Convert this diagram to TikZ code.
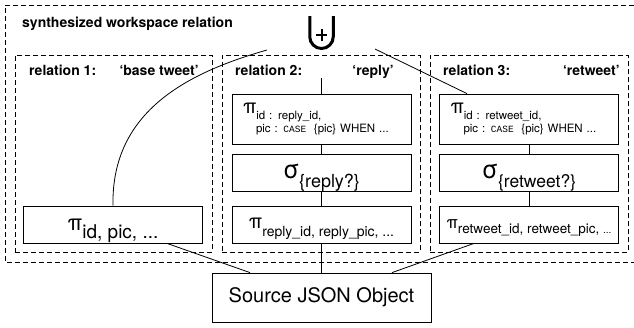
\documentclass[tikz,border=0pt]{standalone}
\usepackage{fontspec}
\setmainfont{TeX Gyre Heros}
\setmonofont{Liberation Mono}
\usetikzlibrary{positioning}
\newcommand{\fsz}[1]{\fontsize{#1}{#1}\selectfont}
\tikzstyle{relFrame}=[draw, dash pattern=on 5pt off 3pt, line width=0.9pt]
\tikzstyle{relLabel}=[anchor=base west, inner sep=0pt, font=\fsz{14}\bfseries]
\tikzstyle{relTag}=[anchor=base east, inner sep=0pt, font=\fsz{14}\bfseries]
\tikzstyle{opBox}=[draw, line width=0.8pt, minimum width=179pt, minimum height=37pt, inner sep=0pt]
\tikzstyle{mapBox}=[opBox, minimum height=50pt, text width=157pt, align=left, font=\fontsize{11.5}{18.5}\selectfont]
\tikzstyle{srcBox}=[draw, line width=0.8pt, minimum width=219pt, minimum height=49pt, font=\fsz{20}]
\tikzstyle{unionSign}=[line width=3pt]
\tikzstyle{unionPlus}=[line width=2pt]
\tikzstyle{dataFlow}=[line width=0.8pt]

\begin{document}
\begin{tikzpicture}[x=1pt, y=-1pt]
    \useasboundingbox (0,0) rectangle (634,327);

    % Workspace Frames
    \draw[relFrame] (634,5) -| (5,262) -- (634,262);
    \node[relFrame, minimum width=197pt, minimum height=197pt, inner sep=0pt] (rel1) at (113.5,153.5) {};
    \node[relFrame, minimum width=198pt, minimum height=197pt, inner sep=0pt] (rel2) at (321,153.5) {};
    \node[relFrame, minimum width=198pt, minimum height=197pt, inner sep=0pt] (rel3) at (529,153.5) {};

    % Frame Labels
    \node[relLabel] (title) at (22,27) {synthesized workspace relation};
    \node[relLabel] (rel1Name) at (29,75.5) {relation 1:};
    \node[relTag] (rel1Tag) at (199,75.5) {‘base tweet’};
    \node[relLabel] (rel2Name) at (235,75.5) {relation 2:};
    \node[relTag] (rel2Tag) at (394,75.5) {‘reply’};
    \node[relLabel] (rel3Name) at (443,75.5) {relation 3:};
    \node[relTag] (rel3Tag) at (620,75.5) {‘retweet’};

    % Union Sign
    \coordinate (union) at (321.5,36.75);
    \draw[unionSign] (309.75,16) -- (309.75,36.75) arc[start angle=180, end angle=360, radius=11.75pt] -- (333.25,16);
    \draw[unionPlus] (316,34.5) -- (327,34.5);
    \draw[unionPlus] (321.5,28.5) -- (321.5,41);
    \coordinate (unionL) at (267,50);
    \coordinate (unionR) at (375,49);

    % Relation 1
    \node[opBox, text height=20pt, text depth=9pt] (r1Proj) at (113,224.5) {{\fsz{22}π}\raisebox{-8pt}{\fsz{19}id, pic, ...}};

    % Relation 2
    \coordinate (r2Entry) at (321.5,78);
    \node[mapBox] (r2Map) at (321.5,119) {{\fsz{20}π}\raisebox{-5.5pt}{id : reply\_id,}\\\hspace*{13pt}pic : {\ttfamily\fsz{9.5}CASE}\ \ \{pic\} WHEN ...};
    \node[opBox, text height=20pt, text depth=9pt] (r2Sel) at (321.5,172.5) {{\fsz{25}σ}\raisebox{-9pt}{\fsz{18}\{reply?\}}};
    \node[opBox, text height=17pt, text depth=10pt] (r2Proj) at (321.5,224.5) {{\fsz{20}π}\raisebox{-8pt}{\fsz{14}reply\_id, reply\_pic, ...}};

    % Relation 3
    \node[mapBox] (r3Map) at (529,119) {{\fsz{20}π}\raisebox{-5.5pt}{id : retweet\_id,}\\\hspace*{13pt}pic : {\ttfamily\fsz{9.5}CASE}\ \ \{pic\} WHEN ...};
    \node[opBox, text height=20pt, text depth=9pt] (r3Sel) at (529,172.5) {{\fsz{25}σ}\raisebox{-9pt}{\fsz{17.5}\{retweet?\}}};
    \node[opBox, text height=17pt, text depth=10pt] (r3Proj) at (529,224.5) {{\fsz{17}π}\raisebox{-5pt}{\fsz{13.5}retweet\_id, retweet\_pic, {\fsz{10}...}}};

    % Source
    \node[srcBox] (src) at (321.5,297.5) {Source JSON Object};

    % Data Flow
    \draw[dataFlow] (unionL) .. controls (190,72) and (111,110) .. (r1Proj.north);
    \draw[dataFlow] (r2Entry) -- (r2Map);
    \draw[dataFlow] (unionR) -- ([xshift=-62pt]r3Map.north);
    \draw[dataFlow] (r2Map) -- (r2Sel);
    \draw[dataFlow] (r2Sel) -- (r2Proj);
    \draw[dataFlow] (r3Map) -- (r3Sel);
    \draw[dataFlow] (r3Sel) -- (r3Proj);
    \draw[dataFlow] ([xshift=54pt]r1Proj.south) -- ([xshift=-71.5pt]src.north);
    \draw[dataFlow] (r2Proj) -- (src);
    \draw[dataFlow] ([xshift=-55pt]r3Proj.south) -- ([xshift=70.5pt]src.north);

\end{tikzpicture}
\end{document}
